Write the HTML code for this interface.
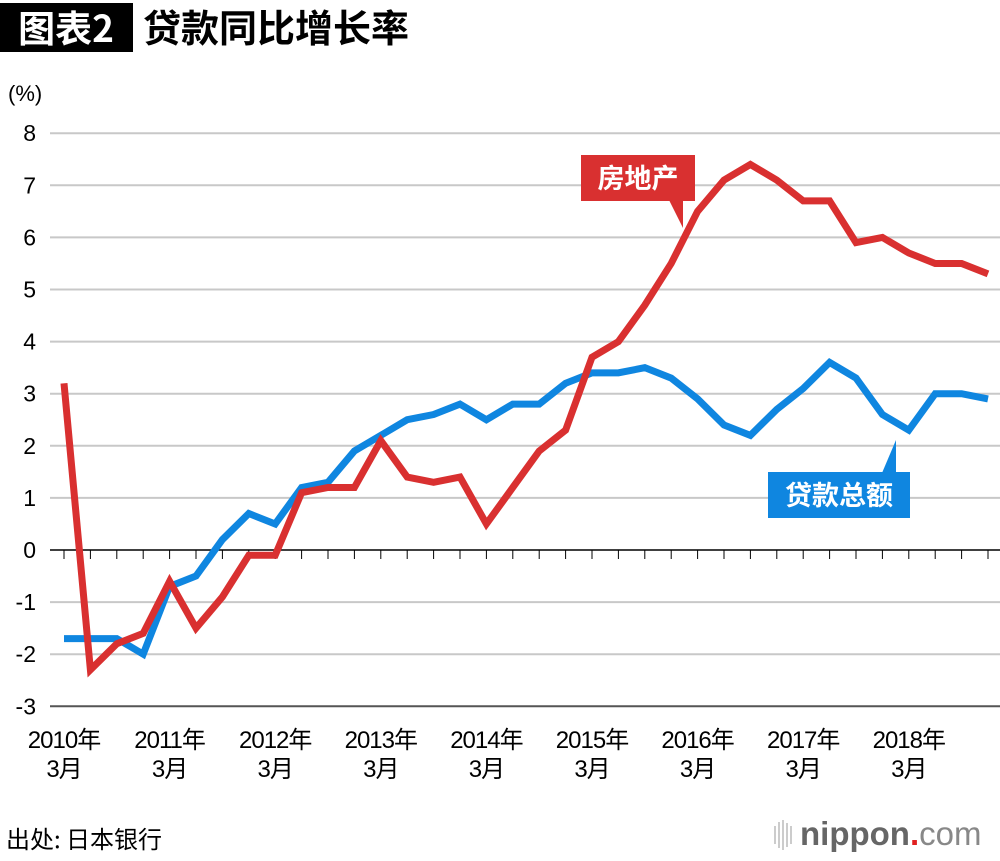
<!DOCTYPE html>
<html><head><meta charset="utf-8"><style>
body{margin:0;background:#fff;width:1000px;height:856px;overflow:hidden;font-family:"Liberation Sans","Noto Sans CJK SC",sans-serif}
</style></head><body>
<svg id="c" width="1000" height="856" xmlns="http://www.w3.org/2000/svg" font-family="Liberation Sans, Noto Sans CJK SC, sans-serif">
<rect x="0" y="3" width="133" height="49" fill="#000"/>
<text x="66" y="42" fill="#fff" font-size="37" font-weight="bold" text-anchor="middle" font-family="Noto Sans CJK SC, sans-serif">图表2</text>
<text x="143" y="42" fill="#000" font-size="38" font-weight="bold" font-family="Noto Sans CJK SC, sans-serif">贷款同比增长率</text>
<text x="8" y="101" font-size="22">(%)</text>
<g id="grid"></g><g id="lines"></g>
<g>
<rect x="581" y="155" width="114" height="46" fill="#d93030"/>
<polygon points="669,200 683,200 683,228" fill="#d93030"/>
<text x="638" y="188" fill="#fff" font-size="27" font-weight="bold" text-anchor="middle" font-family="Noto Sans CJK SC, sans-serif">房地产</text>
</g>
<g>
<rect x="768" y="472" width="142" height="46" fill="#0f86e0"/>
<polygon points="882,473 896,473 896,440" fill="#0f86e0"/>
<text x="839" y="505" fill="#fff" font-size="27" font-weight="bold" text-anchor="middle" font-family="Noto Sans CJK SC, sans-serif">贷款总额</text>
</g>
<text x="6" y="848" font-size="24" font-family="Noto Sans CJK SC, sans-serif">出处: 日本银行</text>
<g>
<g stroke="#bbb" stroke-width="1.5"><line x1="775" y1="826" x2="775" y2="844"/><line x1="779" y1="822" x2="779" y2="848"/><line x1="783" y1="820" x2="783" y2="850"/><line x1="787" y1="823" x2="787" y2="847"/><line x1="791" y1="826" x2="791" y2="844"/></g>
<text x="800" y="845" font-size="33" fill="#666" font-weight="bold">nippon<tspan fill="#e02020">.</tspan><tspan font-weight="normal" fill="#888">com</tspan></text>
</g>
</svg>
<script>
const yTicks=[8,7,6,5,4,3,2,1,0,-1,-2,-3];
const xLabels=["2010年","2011年","2012年","2013年","2014年","2015年","2016年","2017年","2018年"];
const realEstate=[3.2,-2.3,-1.8,-1.6,-0.6,-1.5,-0.9,-0.1,-0.1,1.1,1.2,1.2,2.1,1.4,1.3,1.4,0.5,1.2,1.9,2.3,3.7,4.0,4.7,5.5,6.5,7.1,7.4,7.1,6.7,6.7,5.9,6.0,5.7,5.5,5.5,5.3];
const totalLoans=[-1.7,-1.7,-1.7,-2.0,-0.7,-0.5,0.2,0.7,0.5,1.2,1.3,1.9,2.2,2.5,2.6,2.8,2.5,2.8,2.8,3.2,3.4,3.4,3.5,3.3,2.9,2.4,2.2,2.7,3.1,3.6,3.3,2.6,2.3,3.0,3.0,2.9];
const NS="http://www.w3.org/2000/svg";
const y=v=>550-v*52.1;
const x=i=>64+i*26.4;
function mk(tag,attrs,parent,txt){const e=document.createElementNS(NS,tag);for(const k in attrs)e.setAttribute(k,attrs[k]);if(txt!==undefined)e.textContent=txt;parent.appendChild(e);return e;}
const grid=document.getElementById('grid');
yTicks.forEach(v=>{
  const l=mk('line',{x1:50,x2:1000,y1:y(v),y2:y(v),stroke:v===0?'#000':(v===-3?'#555':'#c8c8c8'),'stroke-width':v===0?1.5:2},grid);
  
  
  const t=mk('text',{x:36,y:y(v)+8,'font-size':23,'text-anchor':'end'},grid,String(v));
  
  
});
for(let i=0;i<realEstate.length;i++){
  const tk=mk('line',{x1:x(i),x2:x(i),y1:y(0),y2:y(0)+9,stroke:'#000','stroke-width':1},grid);
  
  
}
xLabels.forEach((s,k)=>{
  const cx=x(k*4);
  const t=mk('text',{x:cx,y:748,'font-size':24,'text-anchor':'middle','letter-spacing':'-1'},grid,s);
  
  
  const t2=mk('text',{x:cx,y:777,'font-size':24,'text-anchor':'middle','letter-spacing':'-1'},grid,'3月');
  
  
});
const lines=document.getElementById('lines');
function series(arr,color,name){
  const p=mk('polyline',{points:arr.map((v,i)=>x(i)+','+y(v)).join(' '),fill:'none',stroke:color,'stroke-width':7,'stroke-linejoin':'miter'},lines);
  
  
}
series(totalLoans,'#0f86e0','total-loans-line');
series(realEstate,'#d93030','real-estate-line');
</script>
</body></html>
